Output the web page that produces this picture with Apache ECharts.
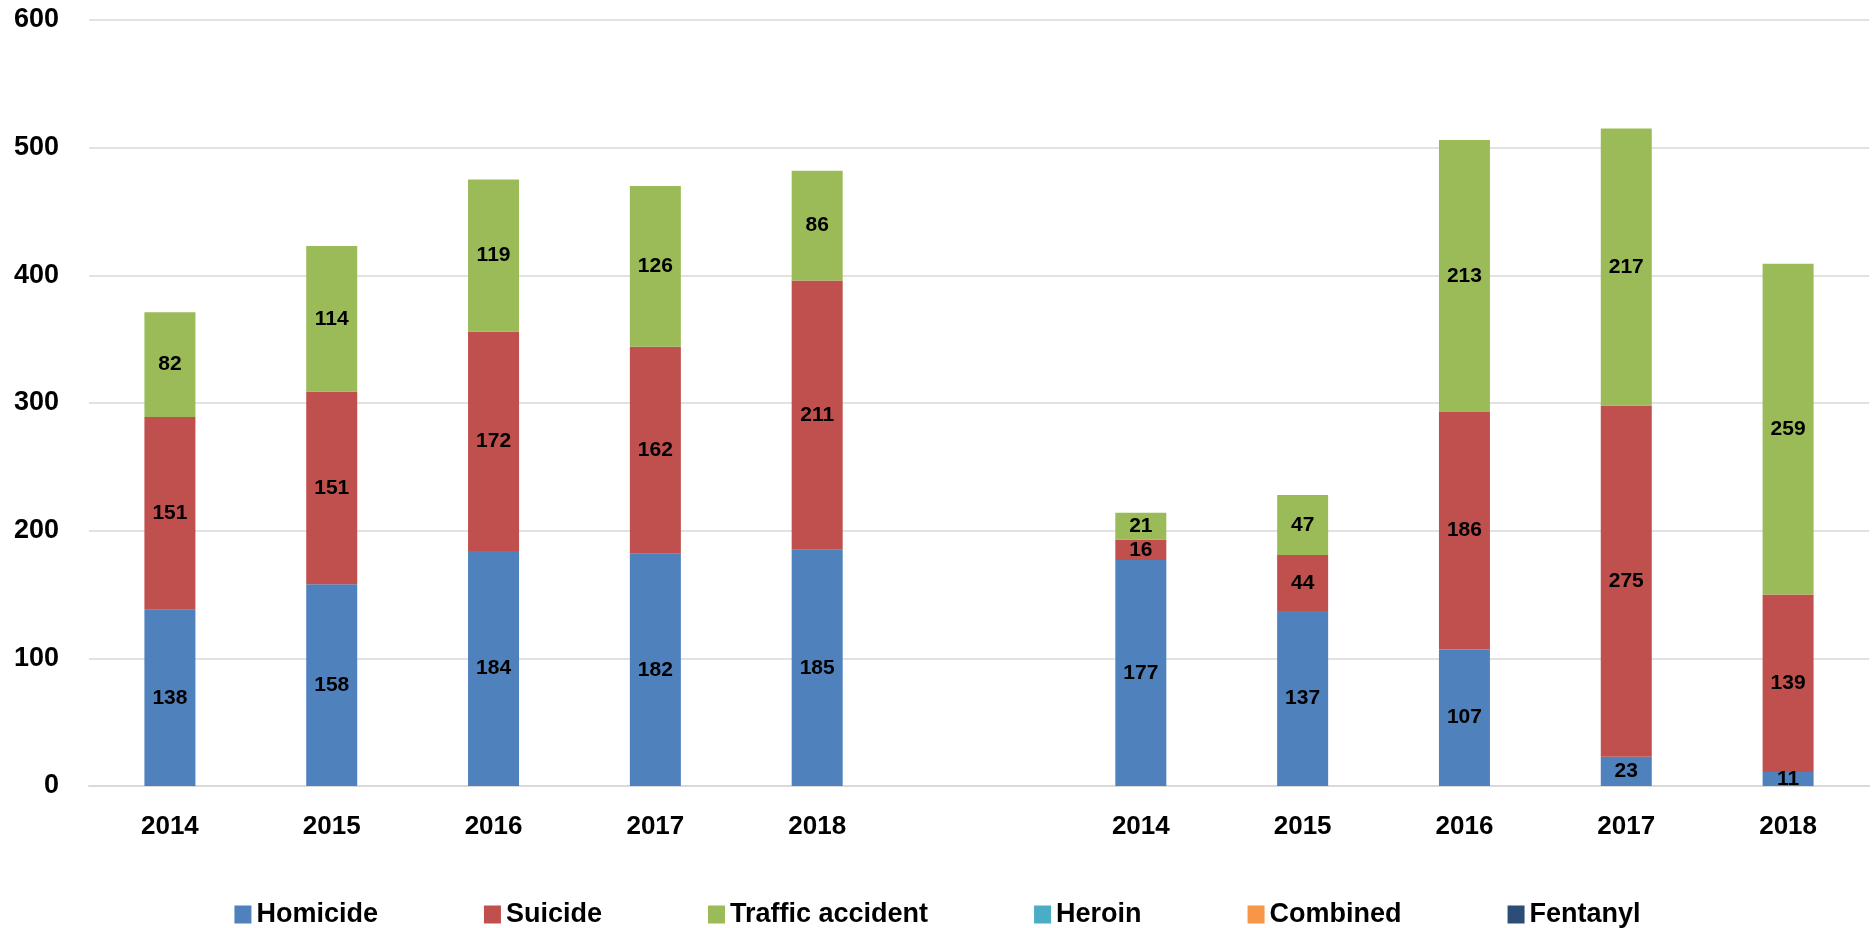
<!DOCTYPE html>
<html>
<head>
<meta charset="utf-8">
<script src="https://cdn.jsdelivr.net/npm/echarts@6/dist/echarts.min.js"></script>
<style>
html,body{margin:0;padding:0;background:#fff;}
#chart{width:1875px;height:928px;}
</style>
</head>
<body>
<div id="chart"></div>
<script>
const categories = ['2014','2015','2016','2017','2018','','2014','2015','2016','2017','2018'];
const homicide = [138,158,184,182,185,null,177,137,107,23,11];
const suicide  = [151,151,172,162,211,null,16,44,186,275,139];
const traffic  = [82,114,119,126,86,null,21,47,213,217,259];
const heroin   = [null,null,null,null,null,null,null,null,null,null,null];
const combined = [null,null,null,null,null,null,null,null,null,null,null];
const fentanyl = [null,null,null,null,null,null,null,null,null,null,null];
const seriesNames = ['Homicide','Suicide','Traffic accident','Heroin','Combined','Fentanyl'];
const colors = ['#4F81BD','#C0504D','#9BBB59','#4BACC6','#F79646','#2C4D75'];
const yTicks = [0,100,200,300,400,500,600];

const font = 'Liberation Sans';
const allData = [homicide,suicide,traffic,heroin,combined,fentanyl];
const chart = echarts.init(document.getElementById('chart'));
chart.setOption({
  animation:false,
  color:colors,
  grid:{left:89,right:6,top:20,bottom:142,containLabel:false},
  legend:{
    top:896, left:'center',
    icon:'rect', itemWidth:17, itemHeight:18, itemGap:106,
    textStyle:{fontFamily:font,fontWeight:'bold',fontSize:27,color:'#000'},
    data:seriesNames
  },
  xAxis:{
    type:'category', data:categories,
    axisLine:{lineStyle:{color:'#D9D9D9',width:2}},
    axisTick:{show:false},
    axisLabel:{fontFamily:font,fontWeight:'bold',fontSize:26,color:'#000',margin:28,interval:0}
  },
  yAxis:{
    type:'value', min:yTicks[0], max:yTicks[yTicks.length-1], interval:100,
    axisLine:{show:false}, axisTick:{show:false},
    splitLine:{lineStyle:{color:'#D9D9D9',width:1.5}},
    axisLabel:{fontFamily:font,fontWeight:'bold',fontSize:27,color:'#000',margin:30}
  },
  series: seriesNames.map((n,i)=>({
    name:n, type:'bar', stack:'total', barWidth:51,
    data:allData[i],
    label:{show:true,position:'inside',fontFamily:font,fontWeight:'bold',fontSize:21,color:'#000',
      formatter:p=> (p.value==null||p.value===0)?'':String(p.value)}
  }))
});
</script>
</body>
</html>
